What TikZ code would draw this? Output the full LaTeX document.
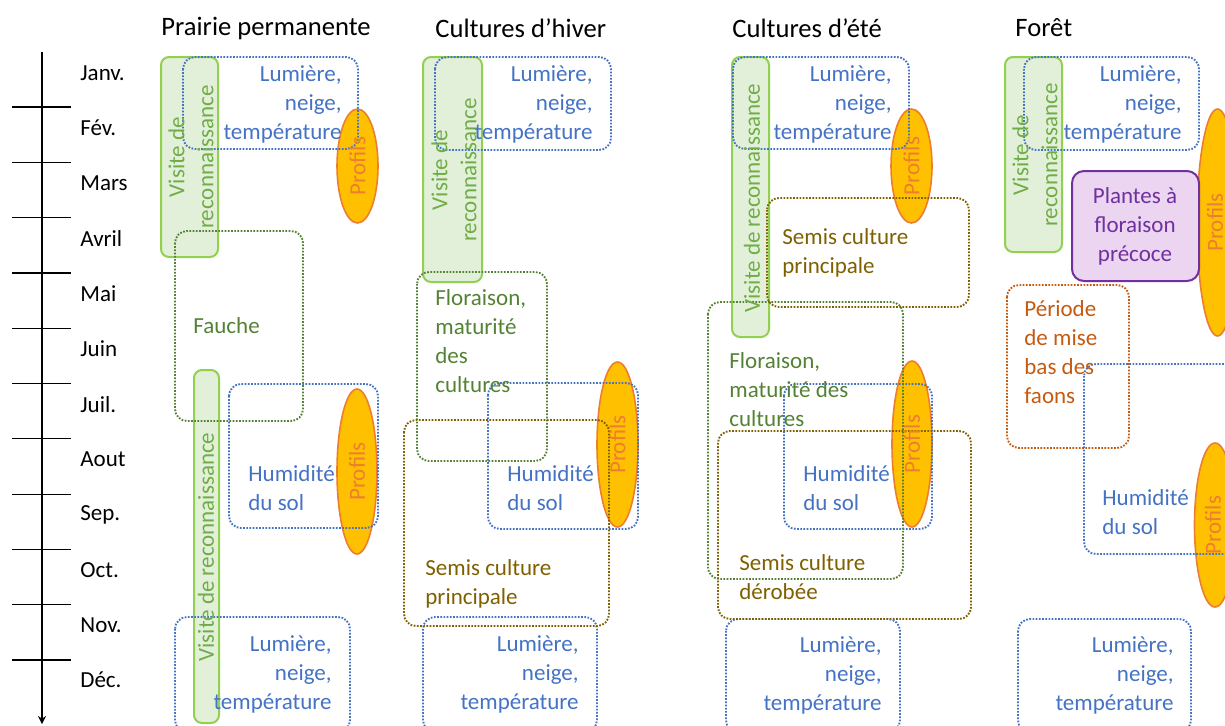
\documentclass[tikz,border=0pt]{standalone}
\usepackage{fontspec}
\setmainfont{Carlito}
\usetikzlibrary{arrows.meta}
\definecolor{cblue}{HTML}{4472C4}
\definecolor{cgreenline}{HTML}{92D050}
\definecolor{cgreenfill}{HTML}{E2F0D9}
\definecolor{cgreentext}{HTML}{70AD47}
\definecolor{cdkgreen}{HTML}{548235}
\definecolor{cbrown}{HTML}{7F6000}
\definecolor{cgold}{HTML}{FFC000}
\definecolor{corange}{HTML}{ED7D31}
\definecolor{crust}{HTML}{C55A11}
\definecolor{cpurple}{HTML}{7030A0}
\definecolor{cpurplefill}{HTML}{EBD5F1}
\tikzset{
  body/.style={font=\fontsize{11.5}{14.5}\selectfont, inner sep=0pt},
  head/.style={font=\fontsize{13.3}{16}\selectfont, inner sep=0pt, anchor=west},
  month/.style={body, anchor=west},
  visitbox/.style={draw=cgreenline, fill=cgreenfill, line width=1pt, rounded corners=4pt},
  visittext/.style={body, text=cgreentext, rotate=90, align=center},
  dotbox/.style={line width=0.95pt, dash pattern=on 0.85pt off 0.75pt, rounded corners=6pt},
  bluebox/.style={dotbox, draw=cblue},
  greenbox/.style={dotbox, draw=cdkgreen},
  brownbox/.style={dotbox, draw=cbrown},
  rustbox/.style={dotbox, draw=crust},
  profil/.style={fill=cgold, draw=corange, line width=0.8pt},
  profiltext/.style={body, text=corange, rotate=90},
  lumtext/.style={body, text=cblue, align=right, anchor=east},
  humtext/.style={body, text=cblue, align=left, anchor=west},
}
\begin{document}
\begin{tikzpicture}[x=0.5pt, y=-0.5pt]
\useasboundingbox (0,0) rectangle (1225,725);
\clip (0,0) rectangle (1225,725);

% --- time axis with month separators
\draw[line width=0.6pt, -{Stealth[length=4pt, width=4pt]}] (42,52) -- (42,724);
\foreach \k in {0,...,10} {
  \draw[line width=0.6pt] (12,{107+55.3*\k}) -- (71,{107+55.3*\k});
}
\foreach \m [count=\i from 0] in {Janv.,Fév.,Mars,Avril,Mai,Juin,Juil.,Aout,Sep.,Oct.,Nov.,Déc.} {
  \node[month] (m\i) at (80,{73+55.2*\i}) {\m};
}

% --- column titles
\node[head] (t1) at (161,28) {Prairie permanente};
\node[head] (t2) at (435,28) {Cultures d’hiver};
\node[head] (t3) at (732,28) {Cultures d’été};
\node[head] (t4) at (1015,28) {Forêt};

% --- field visits (solid green)
\draw[visitbox] (161,57) rectangle (218,257);
\draw[visitbox] (194,370) rectangle (219,723);
\draw[visitbox] (423,57) rectangle (482,282);
\draw[visitbox] (732,57) rectangle (769,337);
\draw[visitbox] (1005,57) rectangle (1062,252);

% --- soil profiles
\draw[profil] (357.5,166) ellipse [x radius=20.5, y radius=57];
\draw[profil] (357,471.5) ellipse [x radius=20, y radius=82.5];
\draw[profil] (617.5,444.5) ellipse [x radius=20.5, y radius=82.5];
\draw[profil] (911.5,166) ellipse [x radius=20.5, y radius=57];
\draw[profil] (912,444) ellipse [x radius=20, y radius=83];
\draw[profil] (1217.5,222.5) ellipse [x radius=20.5, y radius=113.5];
\draw[profil] (1215,525) ellipse [x radius=20.5, y radius=82];

% --- early flowering plants
\draw[draw=cpurple, fill=cpurplefill, line width=1pt, rounded corners=6pt] (1072,171) rectangle (1199,281);

% --- dotted periods
\draw[bluebox] (183,57) rectangle (358,149);
\draw[bluebox] (435,57) rectangle (611,150);
\draw[bluebox] (733,57) rectangle (909,149);
\draw[bluebox] (1024,57) rectangle (1199,150);
\draw[bluebox] (175,617) rectangle (350,732);
\draw[bluebox] (423,617) rectangle (597,732);
\draw[bluebox] (726,619) rectangle (900,732);
\draw[bluebox] (1018,619) rectangle (1191,732);
\draw[bluebox] (229,384) rectangle (378,528);
\draw[bluebox] (488,383) rectangle (638,529);
\draw[bluebox] (784,384) rectangle (932,529);
\draw[bluebox] (1084,364) rectangle (1245,554);
\draw[greenbox] (175,231) rectangle (303,421);
\draw[greenbox] (417,272) rectangle (547,461);
\draw[greenbox] (708,302) rectangle (903,579);
\draw[brownbox] (404,420) rectangle (609,626);
\draw[brownbox] (767,198) rectangle (969,307);
\draw[brownbox] (718,431) rectangle (971,619);
\draw[rustbox] (1007,285) rectangle (1129,448);

% --- labels
\node[visittext] (v1a) at (191,157) {Visite de\\reconnaissance};
\node[visittext] (v1b) at (206,547) {Visite de reconnaissance};
\node[visittext] (v2) at (454,170) {Visite de\\reconnaissance};
\node[visittext] (v3) at (752,198) {Visite de reconnaissance};
\node[visittext] (v4) at (1035,155) {Visite de\\reconnaissance};

\node[profiltext] (p1a) at (357.5,166) {Profils};
\node[profiltext] (p1b) at (357,471.5) {Profils};
\node[profiltext] (p2) at (617.5,444.5) {Profils};
\node[profiltext] (p3a) at (911.5,166) {Profils};
\node[profiltext] (p3b) at (912,444) {Profils};
\node[profiltext] (p4a) at (1215,222.5) {Profils};
\node[profiltext] (p4b) at (1213,525) {Profils};

\node[lumtext] (l1a) at (342,104) {Lumière,\\neige,\\température};
\node[lumtext] (l2a) at (593,104) {Lumière,\\neige,\\température};
\node[lumtext] (l3a) at (892,104) {Lumière,\\neige,\\température};
\node[lumtext] (l4a) at (1182,104) {Lumière,\\neige,\\température};
\node[lumtext] (l1b) at (332,674) {Lumière,\\neige,\\température};
\node[lumtext] (l2b) at (579,674) {Lumière,\\neige,\\température};
\node[lumtext] (l3b) at (882,675) {Lumière,\\neige,\\température};
\node[lumtext] (l4b) at (1174,675) {Lumière,\\neige,\\température};

\node[humtext] (h1) at (248,488) {Humidité\\du sol};
\node[humtext] (h2) at (507,488) {Humidité\\du sol};
\node[humtext] (h3) at (803,488) {Humidité\\du sol};
\node[humtext] (h4) at (1102,512) {Humidité\\du sol};

\node[body, text=cdkgreen, anchor=west] (fa) at (193,326) {Fauche};
\node[body, text=cdkgreen, anchor=west, align=left] (fl2) at (435,341.5) {Floraison,\\maturité\\des\\cultures};
\node[body, text=cdkgreen, anchor=west, align=left] (fl3) at (729,389.5) {Floraison,\\maturité des\\cultures};

\node[body, text=cbrown, anchor=west, align=left] (s2) at (425,583.5) {Semis culture\\principale};
\node[body, text=cbrown, anchor=west, align=left] (s3a) at (782,252.5) {Semis culture\\principale};
\node[body, text=cbrown, anchor=west, align=left] (s3b) at (739,577) {Semis culture\\dérobée};

\node[body, text=cpurple, align=center] (pl) at (1135,226.5) {Plantes à\\floraison\\précoce};
\node[body, text=crust, anchor=west, align=left] (fa4) at (1024,352) {Période\\de mise\\bas des\\faons};
\end{tikzpicture}
\end{document}
